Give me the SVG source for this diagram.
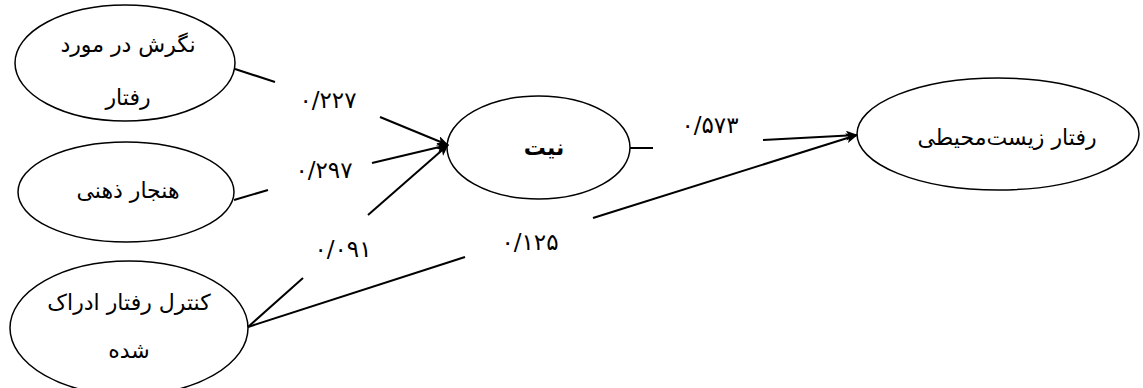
<svg xmlns="http://www.w3.org/2000/svg" width="1143" height="388" viewBox="0 0 1143 388">
<style>
.n{fill:#fff;stroke:#000;stroke-width:1.5}
.t{font-family:"DejaVu Sans",sans-serif;font-size:22px;fill:#000;text-anchor:middle}
.c line{stroke:#000;stroke-width:2}
.l{font-family:"DejaVu Sans",sans-serif;font-size:23px;fill:#000;text-anchor:middle}
</style>
<defs>
<marker id="a" viewBox="0 0 12 10" refX="11" refY="5" markerWidth="12" markerHeight="10" markerUnits="userSpaceOnUse" orient="auto">
<path d="M0,0 L12,5 L0,10 L3,5 Z" fill="#000"/>
</marker>
</defs>
<g id="n1"><ellipse class="n" cx="125" cy="63" rx="110" ry="58"/><text class="t" x="128" y="52" direction="rtl">نگرش در مورد</text><text class="t" x="128" y="105" direction="rtl">رفتار</text></g>
<g id="n2"><ellipse class="n" cx="126" cy="192" rx="108" ry="50"/><text class="t" x="128" y="198" direction="rtl">هنجار ذهنی</text></g>
<g id="n3"><ellipse class="n" cx="129" cy="328" rx="119" ry="67"/><text class="t" x="129" y="310" direction="rtl">کنترل رفتار ادراک</text><text class="t" x="129" y="358" direction="rtl">شده</text></g>
<g id="n4"><ellipse class="n" cx="538.5" cy="147.5" rx="91.5" ry="51.5"/><text class="t" x="544" y="155" font-weight="bold" direction="rtl">نیت</text></g>
<g id="n5"><ellipse class="n" cx="998" cy="134" rx="141" ry="56"/><text class="t" x="1007" y="145" direction="rtl">رفتار زیست‌محیطی</text></g>
<g class="c" id="connectors">
<line x1="235" y1="69" x2="275" y2="82"/>
<line x1="380" y1="117" x2="448" y2="145" marker-end="url(#a)"/>
<line x1="234" y1="200" x2="268" y2="190"/>
<line x1="372" y1="163" x2="448" y2="145" marker-end="url(#a)"/>
<line x1="248" y1="327" x2="303" y2="278"/>
<line x1="368" y1="215" x2="448" y2="145" marker-end="url(#a)"/>
<line x1="630" y1="148" x2="653" y2="148"/>
<line x1="763" y1="140" x2="857" y2="135" marker-end="url(#a)"/>
<line x1="248" y1="327" x2="465" y2="257"/>
<line x1="593" y1="218" x2="857" y2="135" marker-end="url(#a)"/>
</g>
<g id="labels">
<text class="l" x="328" y="108">۰/۲۲۷</text>
<text class="l" x="324" y="178">۰/۲۹۷</text>
<text class="l" x="343" y="257">۰/۰۹۱</text>
<text class="l" x="530" y="250">۰/۱۲۵</text>
<text class="l" x="710" y="133">۰/۵۷۳</text>
</g>
</svg>
